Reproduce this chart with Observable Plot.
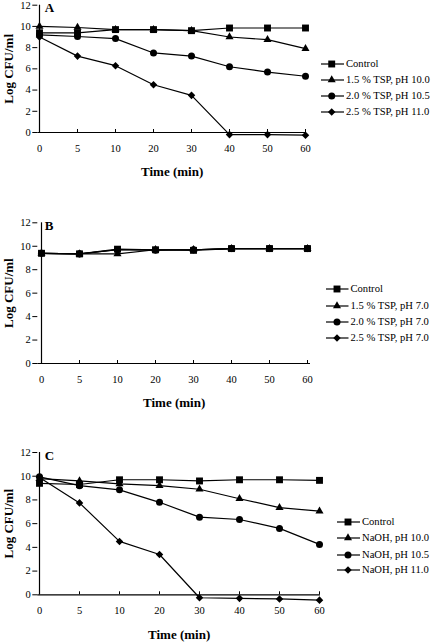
<!DOCTYPE html>
<html><head><meta charset="utf-8">
<script src="https://cdn.jsdelivr.net/npm/d3@7"></script>
<script src="https://cdn.jsdelivr.net/npm/@observablehq/plot@0.6"></script>
<style>
body{margin:0;background:#fff}
#wrap{position:relative;width:433px;height:642px;font-family:"Liberation Serif","Times New Roman",serif;color:#000;background:#fff;overflow:hidden}
.pl{position:absolute;left:0}
.lg{position:absolute;display:flex;align-items:center;font-size:10.6px;white-space:nowrap;line-height:14px}
.lg svg{display:block}
</style>
</head><body><div id="wrap"></div>
<script>
const times = [0, 5, 10, 20, 30, 40, 50, 60];
const yTicks = [0, 2, 4, 6, 8, 10, 12];

const seriesA = ["Control", "1.5 % TSP, pH 10.0", "2.0 % TSP, pH 10.5", "2.5 % TSP, pH 11.0"];
const controlA = [9.4, 9.4, 9.7, 9.7, 9.6, 9.85, 9.85, 9.85];
const tsp15A   = [10.0, 9.9, 9.7, 9.7, 9.6, 9.0, 8.75, 7.9];
const tsp20A   = [9.2, 9.05, 8.85, 7.5, 7.2, 6.2, 5.7, 5.3];
const tsp25A   = [9.0, 7.2, 6.3, 4.5, 3.5, -0.2, -0.2, -0.25];

const seriesB = ["Control", "1.5 % TSP, pH 7.0", "2.0 % TSP, pH 7.0", "2.5 % TSP, pH 7.0"];
const controlB = [9.4, 9.35, 9.75, 9.7, 9.65, 9.8, 9.8, 9.8];
const tsp15B   = [9.4, 9.35, 9.35, 9.7, 9.7, 9.8, 9.8, 9.8];
const tsp20B   = [9.4, 9.35, 9.7, 9.65, 9.7, 9.8, 9.8, 9.8];
const tsp25B   = [9.4, 9.35, 9.7, 9.7, 9.7, 9.8, 9.8, 9.8];

const seriesC = ["Control", "NaOH, pH 10.0", "NaOH, pH 10.5", "NaOH, pH 11.0"];
const controlC = [9.4, 9.3, 9.7, 9.7, 9.6, 9.7, 9.7, 9.65];
const naoh100C = [9.8, 9.6, 9.35, 9.2, 8.9, 8.1, 7.35, 7.05];
const naoh105C = [9.95, 9.2, 8.85, 7.8, 6.55, 6.35, 5.6, 4.25];
const naoh110C = [9.9, 7.75, 4.5, 3.4, -0.25, -0.3, -0.35, -0.45];

const symbolNames = ["square", "triangle", "circle", "diamond2"];
const d3Symbols = [d3.symbolSquare, d3.symbolTriangle, d3.symbolCircle, d3.symbolDiamond2];
const symbolR = [3.9, 3.0, 3.5, 3.4];

const wrap = document.getElementById("wrap");

function panel(cfg) {
  const {letter, series, values, top, height, mTop, mBottom, mRight, legend} = cfg;
  const pxPerUnit = (height - mTop - mBottom) / 12;
  const marks = [
    Plot.ruleY([0], {stroke: "black", strokeWidth: 1.2}),
    Plot.ruleX([0], {y1: 0, y2: 12, stroke: "black", strokeWidth: 1.2}),
    Plot.ruleX(times, {x: d => d, y1: 0, y2: 3 / pxPerUnit, stroke: "black", strokeWidth: 1}),
    Plot.axisY(yTicks, {tickSize: 5, tickPadding: 2, fontSize: 10.5, label: null}),
    Plot.axisX(times, {tickSize: 0, tickPadding: 12, fontSize: 10.5, label: null}),
  ];
  series.forEach((s, i) => {
    const d = values[i].map((v, j) => ({t: times[j], v}));
    marks.push(Plot.line(d, {x: "t", y: "v", stroke: "black", strokeWidth: 1.2}));
  });
  series.forEach((s, i) => {
    const d = values[i].map((v, j) => ({t: times[j], v}));
    marks.push(Plot.dot(d, {x: "t", y: "v", symbol: symbolNames[i], r: symbolR[i], fill: "black", stroke: "none"}));
  });
  marks.push(
    Plot.text([letter], {frameAnchor: "top-left", dx: 7, dy: 3, fontWeight: "bold", fontSize: 13, textAnchor: "start", lineAnchor: "middle"}),
    Plot.text(["Time (min)"], {frameAnchor: "bottom", dy: cfg.titleDy, fontWeight: "bold", fontSize: 13, textAnchor: "middle", lineAnchor: "middle"}),
    Plot.text(["Log CFU/ml"], {frameAnchor: "left", dx: -29, rotate: -90, fontWeight: "bold", fontSize: 13, textAnchor: "middle", lineAnchor: "middle"})
  );
  const svg = Plot.plot({
    width: 433, height,
    marginTop: mTop, marginBottom: mBottom, marginLeft: 37.3, marginRight: mRight,
    x: {type: "point", domain: times, padding: 0},
    y: {domain: [0, 12]},
    style: {fontFamily: "'Liberation Serif', 'Times New Roman', serif", color: "black", background: "transparent", overflow: "visible"},
    marks
  });
  const holder = document.createElement("div");
  holder.className = "pl";
  holder.style.top = top + "px";
  holder.appendChild(svg);
  wrap.appendChild(holder);

  // legend
  series.forEach((s, i) => {
    const row = document.createElement("div");
    row.className = "lg";
    row.style.left = legend.x0 + "px";
    row.style.top = (legend.rows[i] - 7) + "px";
    const w = legend.x1 - legend.x0;
    const sv = d3.create("svg").attr("width", w).attr("height", 14);
    sv.append("line").attr("x1", 0).attr("x2", w).attr("y1", 7).attr("y2", 7).attr("stroke", "black").attr("stroke-width", 1.2);
    sv.append("path").attr("transform", `translate(${legend.xm - legend.x0},7)`)
      .attr("d", d3.symbol(d3Symbols[i], Math.PI * symbolR[i] * symbolR[i])()).attr("fill", "black");
    row.appendChild(sv.node());
    const sp = document.createElement("span");
    sp.textContent = s;
    sp.style.marginLeft = "2px";
    row.appendChild(sp);
    wrap.appendChild(row);
  });
}

panel({letter: "A", series: seriesA, values: [controlA, tsp15A, tsp20A, tsp25A],
  top: 0, height: 180, mTop: 4.7, mBottom: 48, mRight: 433 - 306, titleDy: 39,
  legend: {x0: 321, x1: 344, xm: 331.7, rows: [64, 80, 96, 112]}});

panel({letter: "B", series: seriesB, values: [controlB, tsp15B, tsp20B, tsp25B],
  top: 200, height: 210, mTop: 22.3, mBottom: 47, mRight: 433 - 310, titleDy: 39,
  legend: {x0: 326, x1: 348.5, xm: 337, rows: [289.3, 305.7, 322, 337.7]}});

panel({letter: "C", series: seriesC, values: [controlC, naoh100C, naoh105C, naoh110C],
  top: 430, height: 212, mTop: 22, mBottom: 47.7, mRight: 433 - 320, titleDy: 40,
  legend: {x0: 337, x1: 360, xm: 348, rows: [522.3, 538.3, 554.7, 570.3]}});
</script>
</body></html>
